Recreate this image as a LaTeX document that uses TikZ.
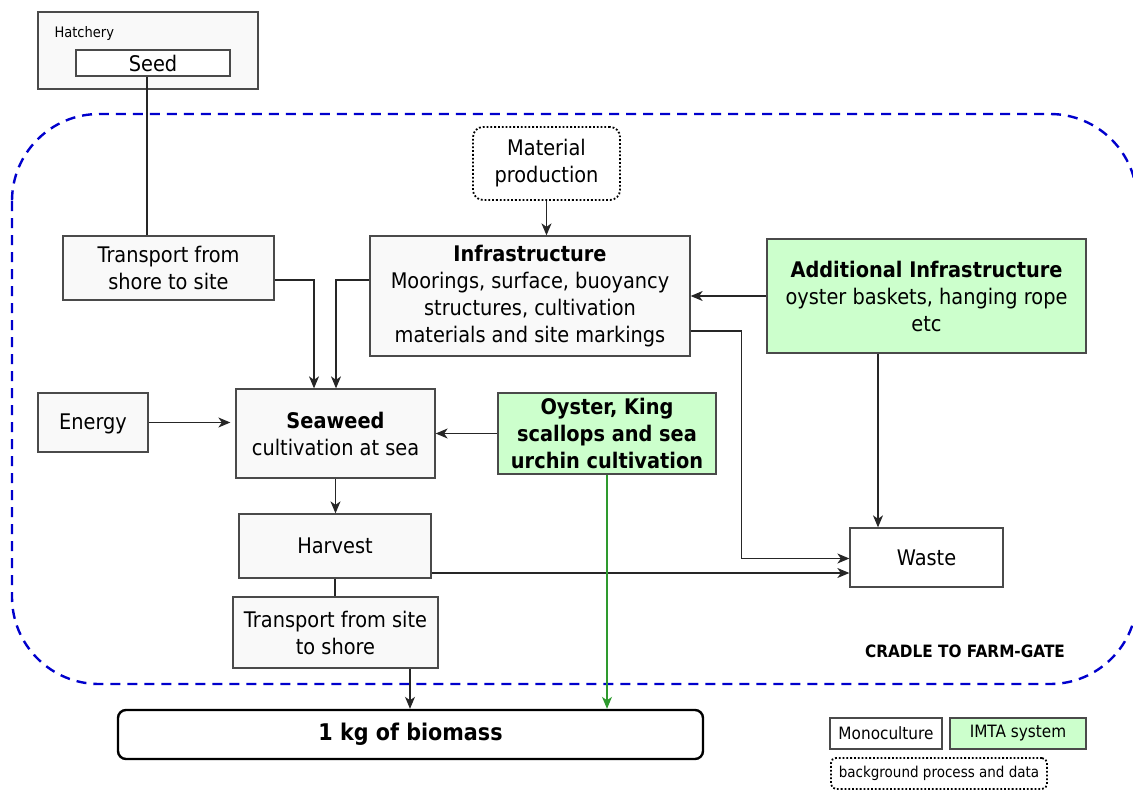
\documentclass[tikz,border=0pt]{standalone}
\usepackage{fontspec}
\setmainfont{DejaVu Sans}[FakeStretch=0.9]
\usetikzlibrary{arrows.meta}

\definecolor{boxfill}{HTML}{F9F9F9}
\definecolor{imtafill}{HTML}{CCFFCC}
\definecolor{edgegray}{HTML}{4A4A4A}
\definecolor{linkgray}{HTML}{262626}
\definecolor{bounddash}{HTML}{0000CC}
\definecolor{imtagreen}{HTML}{2E9A2E}

\newcommand{\bodyfont}{\fontsize{21.5}{27}\selectfont}

\tikzset{
  procbox/.style={draw=edgegray, fill=boxfill, line width=1.3pt, inner sep=0pt,
    align=center, font=\bodyfont},
  imtabox/.style={procbox, fill=imtafill},
  bgbox/.style={draw=black, fill=white, line width=1.8pt, dotted, inner sep=0pt,
    align=center, rounded corners=10pt},
  flow/.style={draw=linkgray, line width=1.2pt,
    -{Stealth[length=12pt,width=10pt,inset=3.5pt]}},
  plain/.style={draw=linkgray, line width=1.2pt},
  greenflow/.style={flow, draw=imtagreen, color=imtagreen},
}

\begin{document}
\begin{tikzpicture}[x=1pt,y=-1pt]
\useasboundingbox (0,0) rectangle (1133,790);

% system boundary
\draw[bounddash, line width=2.4pt, dash pattern=on 10pt off 7pt, rounded corners=87pt]
  (12,114) rectangle (1137,684);
\node[font=\bfseries\fontsize{17}{20}\selectfont, anchor=center] (gate) at (965,651) {CRADLE TO FARM-GATE};

% hatchery
\node[procbox, minimum width=220, minimum height=77] (hatch) at (148,50.5) {};
\node[anchor=base west, font=\fontsize{14.5}{17}\selectfont] (hatchlbl) at (51,37) {Hatchery};
\node[procbox, fill=white, minimum width=154, minimum height=26] (seed) at (153,63) {Seed};

% background process
\node[bgbox, minimum width=147, minimum height=73, font=\bodyfont] (mat) at (546.5,163.5) {Material\\production};

% foreground processes
\node[procbox, minimum width=211, minimum height=64] (tss) at (168.5,268) {Transport from\\shore to site};
\node[procbox, minimum width=320, minimum height=120] (infra) at (530,296)
  {\textbf{Infrastructure}\\Moorings, surface, buoyancy\\structures, cultivation\\materials and site markings};
\node[imtabox, minimum width=319, minimum height=114] (addinf) at (926.5,296)
  {\textbf{Additional Infrastructure}\\oyster baskets, hanging rope\\etc};
\node[procbox, minimum width=110, minimum height=59, text depth=2pt] (energy) at (93,422.5) {Energy};
\node[procbox, minimum width=199, minimum height=89] (seaweed) at (335.5,433.5)
  {\textbf{Seaweed}\\cultivation at sea};
\node[imtabox, minimum width=218, minimum height=81, font=\bodyfont\bfseries] (oyster) at (607,433.5)
  {Oyster, King\\scallops and sea\\urchin cultivation};
\node[procbox, minimum width=192, minimum height=64] (harvest) at (335,546) {Harvest};
\node[procbox, minimum width=205, minimum height=71] (tsite) at (335.5,632.5) {Transport from site\\to shore};
\node[procbox, fill=white, minimum width=153, minimum height=59] (waste) at (926.5,557.5) {Waste};

% functional unit
\node[draw=black, fill=white, line width=2.4pt, rounded corners=8pt, inner sep=0pt,
  minimum width=585, minimum height=49, font=\bfseries\fontsize{23}{27}\selectfont]
  (bio) at (410.5,734.5) {1 kg of biomass};

% legend
\node[procbox, fill=white, minimum width=112, minimum height=31, font=\fontsize{17}{20}\selectfont] (legmono) at (886,733.5) {Monoculture};
\node[imtabox, minimum width=136, minimum height=31, font=\fontsize{17}{20}\selectfont] (legimta) at (1018,733.5) {IMTA system};
\node[bgbox, rounded corners=5pt, minimum width=216, minimum height=31, font=\fontsize{15}{18}\selectfont] (legbg) at (939,773.5) {background process and data};

% connectors
\draw[plain] ([xshift=-6pt]seed.south) -- ([xshift=-6pt]seed.south |- tss.north);
\draw[flow] (mat.south) -- (mat.south |- infra.north);
\draw[flow] (addinf.west) -- (addinf.west -| infra.east);
\draw[flow] ([yshift=-12pt]tss.east) -| ([xshift=-21.5pt]seaweed.north);
\draw[flow] ([yshift=16pt]infra.west) -| ([xshift=0.5pt]seaweed.north);
\draw[flow] ([yshift=-35pt]infra.east) -- ++(51,0) |- ([yshift=-1pt]waste.west);
\draw[flow] ([xshift=-48.5pt]addinf.south) -- ([xshift=-48.5pt]addinf.south |- waste.north);
\draw[flow] (energy.east) -- ([xshift=-5pt]energy.east -| seaweed.west);
\draw[flow] (oyster.west) -- (oyster.west -| seaweed.east);
\draw[flow] (seaweed.south) -- (seaweed.south |- harvest.north);
\draw[flow] ([yshift=-27pt]harvest.east) -- ([yshift=-27pt]harvest.east -| waste.west);
\draw[plain] (harvest.south) -- (harvest.south |- tsite.north);
\draw[flow] ([xshift=74.5pt]tsite.south) -- ([xshift=74.5pt]tsite.south |- bio.north);
\draw[greenflow] (oyster.south) -- (oyster.south |- bio.north);
\end{tikzpicture}
\end{document}
